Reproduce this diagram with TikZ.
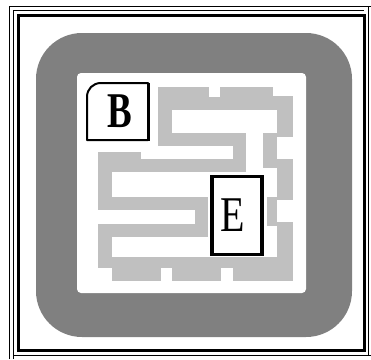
\documentclass[tikz,border=0pt]{standalone}
\usepackage{graphicx}
\usepackage{fontspec}
\setmainfont{Liberation Serif}
\definecolor{ringgray}{HTML}{808080}
\definecolor{mazegray}{HTML}{C0C0C0}
\begin{document}
\begin{tikzpicture}[x=1pt,y=-1pt,
  thinrule/.style={line width=1pt},
  thickrule/.style={line width=3pt},
  mazefill/.style={fill=mazegray},
  letter/.style={inner sep=0pt, font=\fontsize{50}{52}\selectfont}]
\useasboundingbox (0,0) rectangle (371,359);
\fill[white] (0,0) rectangle (371,359);
% frame
\draw[thinrule] (9.5,359) -- (9.5,6.5) -- (371,6.5);
\draw[thinrule] (13.5,359) -- (13.5,10.5) -- (364,10.5);
\draw[thinrule] (13.5,355.5) -- (371,355.5);
\draw[thinrule] (368.5,6.5) -- (368.5,355.5);
\draw[thickrule] (18.5,15.5) rectangle (364.5,350.5);
% ring
\fill[ringgray, rounded corners=46pt] (36,33) rectangle (352,337);
\fill[white, rounded corners=4pt] (77,73) rectangle (306,293);
% maze corridor
\foreach \a/\b/\c/\d in {
  158/87/209/110, 209/97/220/110, 220/87/273/110, 273/96/293/110,
  277/110/293/137, 158/110/172/146, 158/133/246/146, 233/133/246/172,
  98/159/246/172, 98/152/141/172,
  98/152/112/210, 98/197/208/210, 195/197/208/237, 98/224/208/237,
  98/224/112/268,
  263/133/277/168, 263/159/293/168, 277/159/293/200, 267/200/277/222,
  267/197/293/200, 267/222/293/226, 277/222/293/281,
  98/257/293/268, 112/268/161/281, 172/268/221/281, 233/268/277/281}
  \fill[mazefill] (\a,\b) rectangle (\c,\d);
% B box
\draw[line width=2pt, line join=round] (87,140) -- (87,97) .. controls (87,89) and (93,83) .. (101,83) -- (148,83) -- (148,140) -- cycle;
\draw[line width=3pt] (148.5,83) -- (148.5,141);
\node[letter] (B) at (120,111.5) {\scalebox{0.74}[1]{\bfseries B}};
% E box
\draw[line width=3.5pt] (212,176.5) rectangle (262,254.5);
\node[letter] (E) at (233,215.5) {\scalebox{0.8}[1]{E}};
\end{tikzpicture}
\end{document}
